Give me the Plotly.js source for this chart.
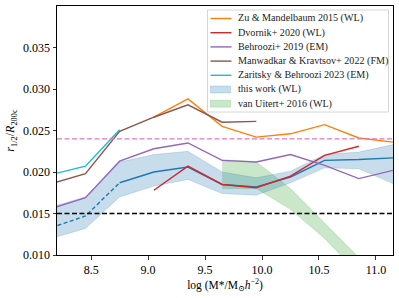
<!DOCTYPE html>
<html><head><meta charset="utf-8">
<script src="https://cdn.plot.ly/plotly-3.0.1.min.js"></script>
<style>html,body{margin:0;padding:0;background:#fff;}#chart{width:399px;height:298px;}</style>
</head><body><div id="chart"></div>
<script>
// Stellar mass bins, log(M*/Msun h^-2)
const xMass = [8.15, 8.45, 8.75, 9.05, 9.35, 9.65, 9.95, 10.25, 10.55, 10.85, 11.15];
// this work (WL)
const thisMedian = [0.0133, 0.0147, 0.0187, 0.0200, 0.0206, 0.0185, 0.0182, 0.0194, 0.0214, 0.0215, 0.0217];
const thisUpper  = [0.0158, 0.0170, 0.0212, 0.0221, 0.0225, 0.0200, 0.0193, 0.0201, 0.0221, 0.0224, 0.0233];
const thisLower  = [0.0120, 0.0132, 0.0170, 0.0183, 0.0191, 0.0174, 0.0172, 0.0187, 0.0205, 0.0204, 0.0186];
const dashedEndIndex = 2; // dashed up to 8.75
// Zu & Mandelbaum 2015 (WL)
const xZu = [9.05, 9.35, 9.65, 9.95, 10.25, 10.55, 10.85, 11.15];
const zu  = [0.0266, 0.0288, 0.0255, 0.0242, 0.0246, 0.0257, 0.0241, 0.0236];
// Dvornik+ 2020 (WL)
const xDv = [9.05, 9.35, 9.65, 9.95, 10.25, 10.55, 10.85];
const dv  = [0.0178, 0.0207, 0.0185, 0.0181, 0.0195, 0.0220, 0.0231];
// Behroozi+ 2019 (EM)
const behroozi = [0.0156, 0.0169, 0.0213, 0.0228, 0.0235, 0.0214, 0.0212, 0.0221, 0.0208, 0.0192, 0.0202];
// Manwadkar & Kravtsov+ 2022 (FM)
const xMk = [8.15, 8.45, 8.75, 9.05, 9.35, 9.65, 9.95];
const mk  = [0.0186, 0.0198, 0.0249, 0.0266, 0.0281, 0.0260, 0.0261];
// Zaritsky & Behroozi 2023 (EM)
const xZb = [8.15, 8.45, 8.75];
const zb  = [0.0197, 0.0207, 0.0251];
// van Uitert+ 2016 (WL)
const xVu = [9.65, 9.95, 10.25, 10.55, 10.85];
const vuUpper = [0.0215, 0.0212, 0.0180, 0.0139, 0.0097];
const vuLower = [0.0180, 0.0180, 0.0155, 0.0120, 0.0077];
// reference lines
const refPink = 0.024;
const refBlack = 0.015;
// legend
const legendNames = ['Zu &amp; Mandelbaum 2015 (WL)', 'Dvornik+ 2020 (WL)', 'Behroozi+ 2019 (EM)',
  'Manwadkar &amp; Kravtsov+ 2022 (FM)', 'Zaritsky &amp; Behroozi 2023 (EM)', 'this work (WL)', 'van Uitert+ 2016 (WL)'];
const legendKinds = ['line', 'line', 'line', 'line', 'line', 'patch', 'patch'];
const legendColors = ['#ff7f0e', '#d62728', '#9467bd', '#8c564b', '#17becf', '#1f77b4', '#2ca02c'];

const C = {blue:'#1f77b4', orange:'#ff7f0e', red:'#d62728', purple:'#9467bd', brown:'#8c564b', cyan:'#17becf', green:'#2ca02c', pink:'#e377c2'};
const LW = 1.4;
function rgba(hex, a){const n=parseInt(hex.slice(1),16);return `rgba(${n>>16},${(n>>8)&255},${n&255},${a})`;}

const traces = [
  {x:xVu, y:vuLower, mode:'lines', line:{width:0.6, color:rgba(C.green,0.3)}, showlegend:false, hoverinfo:'skip'},
  {x:xVu, y:vuUpper, mode:'lines', fill:'tonexty', fillcolor:rgba(C.green,0.25), line:{width:0.6, color:rgba(C.green,0.3)}, showlegend:false},
  {x:xMass, y:thisLower, mode:'lines', line:{width:0.6, color:rgba(C.blue,0.3)}, showlegend:false, hoverinfo:'skip'},
  {x:xMass, y:thisUpper, mode:'lines', fill:'tonexty', fillcolor:rgba(C.blue,0.25), line:{width:0.6, color:rgba(C.blue,0.3)}, showlegend:false},
  {x:xMass.slice(0, dashedEndIndex+1), y:thisMedian.slice(0, dashedEndIndex+1), mode:'lines', line:{width:LW, color:C.blue, dash:'4px,2.5px'}, showlegend:false},
  {x:xMass.slice(dashedEndIndex), y:thisMedian.slice(dashedEndIndex), mode:'lines', line:{width:LW, color:C.blue}, showlegend:false},
  {x:xZu, y:zu, mode:'lines', line:{width:LW, color:C.orange}, showlegend:false},
  {x:xDv, y:dv, mode:'lines', line:{width:LW, color:C.red}, showlegend:false},
  {x:xMass, y:behroozi, mode:'lines', line:{width:LW, color:C.purple}, showlegend:false},
  {x:xMk, y:mk, mode:'lines', line:{width:LW, color:C.brown}, showlegend:false},
  {x:xZb, y:zb, mode:'lines', line:{width:LW, color:C.cyan}, showlegend:false}
];

const font = 'Liberation Serif, DejaVu Serif, serif';
const M = {l:57, r:6, t:6, b:43}, W = 399, H = 298;
const PW = W - M.l - M.r, PH = H - M.t - M.b;
const px = v => (v - M.l) / PW;           // pixel -> paper x
const py = v => (H - M.b - v) / PH;        // pixel -> paper y

// legend built as a box with samples and text
const legBox = {x0:207.5, x1:388.5, y0:10, y1:112};
const legRow0 = 18.5, legStep = 14.2, sampX0 = 210.5, sampX1 = 231.5, textX = 235.5;
const shapes = [
  {type:'line', xref:'paper', x0:0, x1:1, yref:'y', y0:refPink, y1:refPink, line:{color:C.pink, width:1.3, dash:'5px,2.5px'}},
  {type:'line', xref:'paper', x0:0, x1:1, yref:'y', y0:refBlack, y1:refBlack, line:{color:'#000', width:1.3, dash:'5px,2.5px'}},
  {type:'rect', xref:'paper', yref:'paper', x0:px(legBox.x0), x1:px(legBox.x1), y0:py(legBox.y1), y1:py(legBox.y0),
   fillcolor:'rgba(255,255,255,0.8)', line:{color:'#d6d6d6', width:1}}
];
const annotations = [];
legendNames.forEach((nm, i) => {
  const yc = legRow0 + i * legStep;
  if (legendKinds[i] === 'line') {
    shapes.push({type:'line', xref:'paper', yref:'paper', x0:px(sampX0), x1:px(sampX1), y0:py(yc), y1:py(yc), line:{color:legendColors[i], width:LW}});
  } else {
    shapes.push({type:'rect', xref:'paper', yref:'paper', x0:px(sampX0), x1:px(sampX1 - 1), y0:py(yc + 3.5), y1:py(yc - 3.5),
      fillcolor:rgba(legendColors[i], 0.25), line:{color:rgba(legendColors[i], 0.3), width:0.6}});
  }
  annotations.push({xref:'paper', yref:'paper', x:px(textX), y:py(yc), xanchor:'left', yanchor:'middle', text:nm, showarrow:false,
    font:{family:font, size:10.1, color:'#222'}});
});

const layout = {
  width:W, height:H, margin:M,
  paper_bgcolor:'#fff', plot_bgcolor:'#fff',
  font:{family:font, size:12, color:'#000'},
  showlegend:false,
  xaxis:{range:[8.2, 11.15], tickvals:[8.5, 9.0, 9.5, 10.0, 10.5, 11.0], tickformat:'.1f', showgrid:false, zeroline:false,
    showline:true, mirror:true, linecolor:'#000', linewidth:1, ticks:'outside', ticklen:3.5, tickwidth:0.8, tickcolor:'#000',
    title:{text:'log (M*/M<sub>⊙</sub><i>h</i><sup>−2</sup>)', font:{family:font, size:11.5}, standoff:0}},
  yaxis:{range:[0.010, 0.040], tickvals:[0.010, 0.015, 0.020, 0.025, 0.030, 0.035], tickformat:'.3f', showgrid:false, zeroline:false,
    showline:true, mirror:true, linecolor:'#000', linewidth:1, ticks:'outside', ticklen:3.5, tickwidth:0.8, tickcolor:'#000',
    title:{text:'<i>r</i><sub>1/2</sub>/<i>R</i><sub>200c</sub>', font:{family:font, size:12}, standoff:5}},
  shapes:shapes,
  annotations:annotations
};
Plotly.newPlot('chart', traces, layout, {displayModeBar:false, staticPlot:true});
</script>
</body></html>
